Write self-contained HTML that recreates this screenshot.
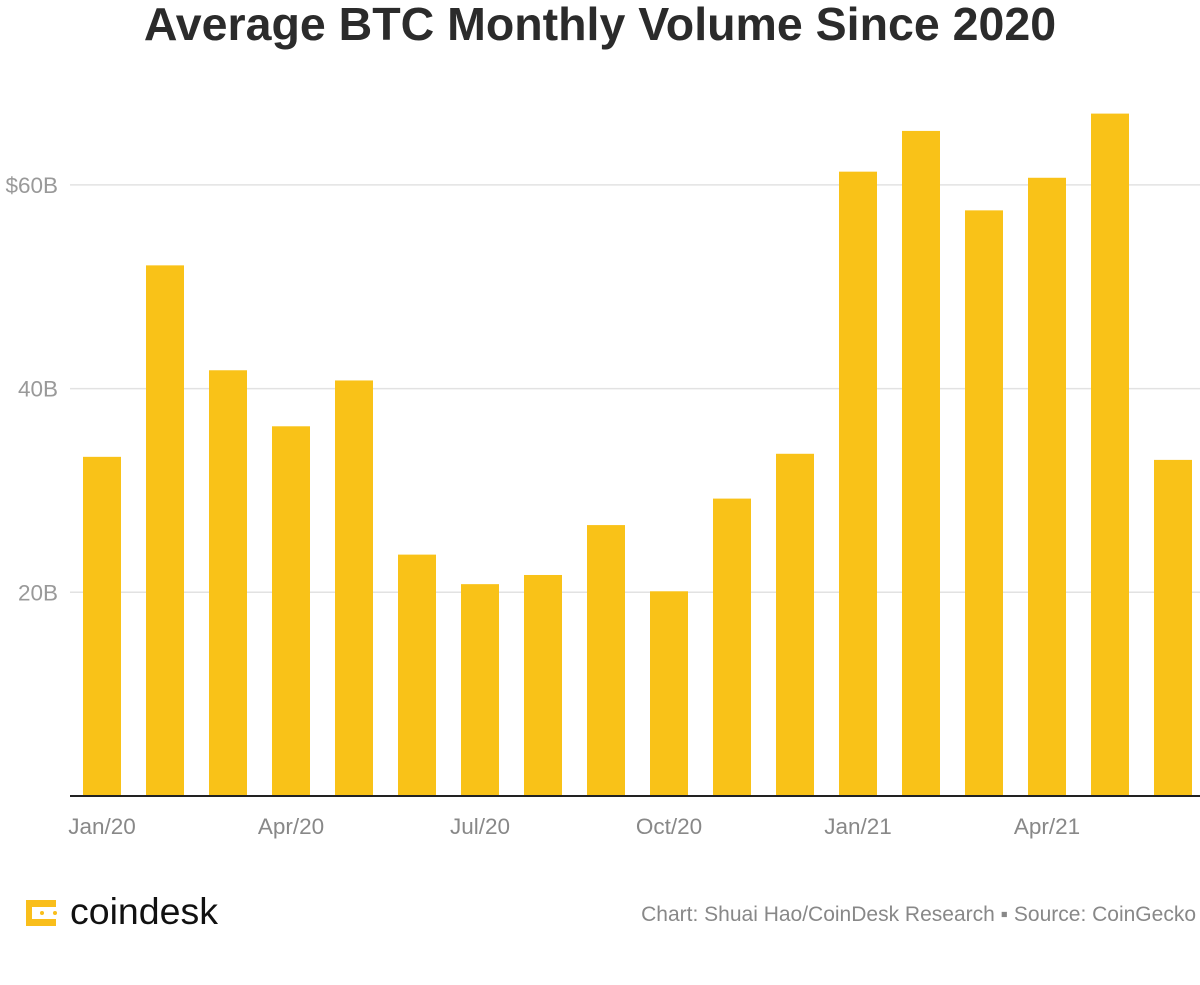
<!DOCTYPE html>
<html><head><meta charset="utf-8"><style>
body{margin:0;background:#fff;width:1200px;height:980px;overflow:hidden;font-family:"Liberation Sans",sans-serif}
</style></head><body>
<svg width="1200" height="980">
<text x="600" y="40" text-anchor="middle" font-size="46.5" font-weight="bold" fill="#2b2b2b">Average BTC Monthly Volume Since 2020</text>
<g id="grid"></g><g id="bars"></g><g id="xl"></g>
<line x1="70" x2="1200" y1="796" y2="796" stroke="#222" stroke-width="2"/>
<g>
<path d="M26 900 h30 v7 h-24 v12 h24 v7 h-30 z" fill="#f9be1b"/>
<circle cx="42" cy="913" r="2" fill="#f9be1b"/><circle cx="55" cy="913" r="2" fill="#f9be1b"/>
<text x="70" y="924" font-size="37.5" fill="#111">coindesk</text>
</g>
<text x="1196" y="921" text-anchor="end" font-size="21" fill="#888">Chart: Shuai Hao/CoinDesk Research ▪ Source: CoinGecko</text>
</svg>
<script>
const categories=["Jan/20","Feb/20","Mar/20","Apr/20","May/20","Jun/20","Jul/20","Aug/20","Sep/20","Oct/20","Nov/20","Dec/20","Jan/21","Feb/21","Mar/21","Apr/21","May/21","Jun/21"];
const values=[33.3,52.1,41.8,36.3,40.8,23.7,20.8,21.7,26.6,20.1,29.2,33.6,61.3,65.3,57.5,60.7,67.0,33.0];
const yTicks=[20,40,60];
const yTickLabels=["20B","40B","$60B"];
const xLabelIdx=[0,3,6,9,12,15];
const xLabels=["Jan/20","Apr/20","Jul/20","Oct/20","Jan/21","Apr/21"];
const NS="http://www.w3.org/2000/svg";
const y=v=>796-v*10.185;
const x=i=>83+i*63;
const bw=38;
function mk(t,a,p){const e=document.createElementNS(NS,t);for(const k in a)e.setAttribute(k,a[k]);document.getElementById(p).appendChild(e);return e;}
yTicks.forEach((t,i)=>{
 const l=mk('line',{x1:70,x2:1200,y1:y(t),y2:y(t),stroke:'#e2e2e2','stroke-width':1.5},'grid');
 
 
 const tx=mk('text',{x:58,y:y(t)+8,'text-anchor':'end','font-size':22.5,fill:'#999'},'grid');
 tx.textContent=yTickLabels[i];
 
 
});
values.forEach((v,i)=>{
 const r=mk('rect',{x:x(i),y:y(v),width:bw,height:796-y(v),fill:'#f9c218'},'bars');
 
 
});
xLabelIdx.forEach((ix,i)=>{
 const tx=mk('text',{x:x(ix)+bw/2,y:834,'text-anchor':'middle','font-size':22.5,fill:'#888'},'xl');
 tx.textContent=xLabels[i];
 
 
});
</script>
</body></html>
